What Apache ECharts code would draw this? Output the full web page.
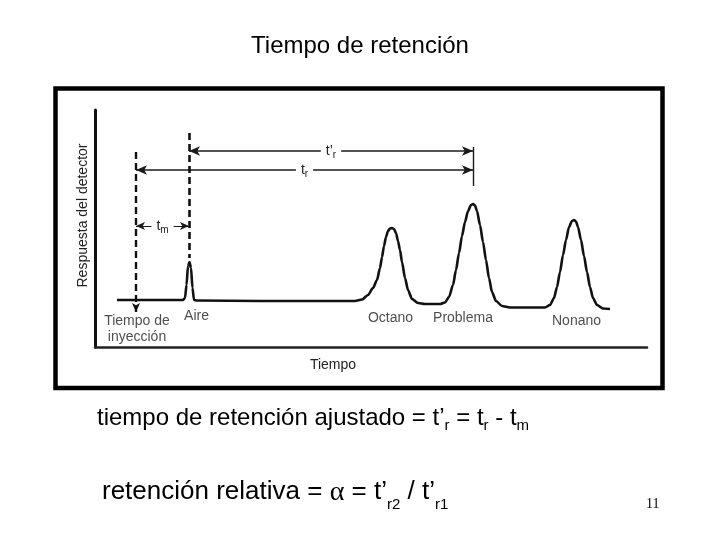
<!DOCTYPE html>
<html>
<head>
<meta charset="utf-8">
<script src="https://cdn.jsdelivr.net/npm/echarts@6/dist/echarts.min.js"></script>
<style>html,body{margin:0;padding:0;background:#fff;}#c{width:720px;height:540px;}</style>
</head>
<body>
<div id="c"></div>
<script>
// ---- data (time and response in arbitrary units) ----
const traceTime = [2.2, 5.5, 8.8, 9.0, 9.15, 9.3, 9.45, 9.6, 9.75, 9.9, 10.2, 16.5, 23.5, 26.0,
  26.7, 27.3, 27.8, 28.2, 28.5, 28.7, 28.9, 29.1, 29.3, 29.5, 29.7, 29.9, 30.1, 30.3, 30.5, 30.7,
  31.0, 31.3, 31.7, 32.3, 33.0, 34.5, 35.0, 35.4, 35.8, 36.1, 36.4, 36.7, 37.0, 37.3, 37.6, 37.8,
  38.0, 38.2, 38.5, 38.8, 39.1, 39.4, 39.7, 40.1, 40.7, 41.5, 45.0, 45.5, 45.9, 46.2, 46.5, 46.8,
  47.1, 47.4, 47.7, 47.9, 48.1, 48.3, 48.6, 48.9, 49.2, 49.5, 49.8, 50.2, 50.8, 51.5];
const traceResponse = [4.7, 4.7, 4.7, 4.9, 6.2, 8.1, 8.5, 7.9, 5.9, 4.7, 4.65, 4.6, 4.6, 4.6,
  4.75, 5.2, 5.9, 6.7, 7.9, 9.0, 10.1, 11.0, 11.6, 11.85, 11.9, 11.8, 11.4, 10.6, 9.7, 8.5,
  6.9, 5.7, 4.8, 4.4, 4.3, 4.3, 4.45, 5.0, 6.2, 7.7, 9.4, 11.1, 12.5, 13.6, 14.2, 14.3,
  14.15, 13.6, 12.2, 10.5, 8.7, 6.9, 5.5, 4.6, 4.1, 3.95, 3.95, 4.2, 4.9, 6.0, 7.5, 9.2,
  10.7, 12.0, 12.6, 12.7, 12.55, 12.0, 10.7, 9.1, 7.5, 6.0, 4.9, 4.2, 3.85, 3.8];
const peakNames = ['Aire', 'Octano', 'Problema', 'Nonano'];
const peakTimes = [9.4, 29.7, 37.8, 47.9];
const injectionTime = 4.1;
const injectionLabel = 'Tiempo de\ninyección';
const baselineLevel = 4.7;
const axisMax = { time: 55.2, response: 23.7 };

// ---- chart ----
const FONT = "'Liberation Sans', Arial, Helvetica, sans-serif";
const SERIF = "'Liberation Serif', 'Times New Roman', serif";
const chart = echarts.init(document.getElementById('c'), null, { renderer: 'canvas' });

const airTime = peakTimes[0];
const sampleTime = peakTimes[2];
const arrowColor = '#1a1a1a';
const tLabel = (sub, prime) => ({
  formatter: '{t|t' + (prime ? '’' : '') + '}{s|' + sub + '}',
  position: 'middle',
  distance: 0,
  verticalAlign: 'middle',
  backgroundColor: '#fff',
  padding: [1, 5],
  rich: {
    t: { fontFamily: FONT, fontSize: 14, color: '#222', lineHeight: 16 },
    s: { fontFamily: FONT, fontSize: 10, color: '#222', lineHeight: 19, verticalAlign: 'bottom' }
  }
});

const labelOffsets = [[7.5, 16], [-1.5, 18], [-10, 18], [2.5, 21.5]];

const option = {
  animation: false,
  backgroundColor: '#fff',
  title: {
    text: 'Tiempo de retención',
    left: 'center',
    top: 29,
    textStyle: { fontFamily: FONT, fontSize: 24, fontWeight: 'normal', color: '#000' }
  },
  graphic: [
    { type: 'rect', z: -10, shape: { x: 55.5, y: 88.5, width: 607, height: 299.5 },
      style: { fill: '#fff', stroke: '#000', lineWidth: 4.5 } },
    { type: 'text', left: 97, top: 406,
      style: {
        text: '{n|tiempo de retención ajustado = t’}{s|r}{n| = t}{s|r}{n| - t}{s|m}',
        rich: {
          n: { fontFamily: FONT, fontSize: 24, color: '#000', lineHeight: 24, verticalAlign: 'top' },
          s: { fontFamily: FONT, fontSize: 15, color: '#000', lineHeight: 27.5, verticalAlign: 'bottom' }
        }
      } },
    { type: 'text', left: 102, top: 479,
      style: {
        text: '{n|retención relativa = }{a|α}{n| = t’}{s|r2}{n| / t’}{s|r1}',
        rich: {
          n: { fontFamily: FONT, fontSize: 26, color: '#000', lineHeight: 26, verticalAlign: 'top' },
          a: { fontFamily: SERIF, fontSize: 28, color: '#000', lineHeight: 26, verticalAlign: 'top' },
          s: { fontFamily: FONT, fontSize: 15, color: '#000', lineHeight: 33, verticalAlign: 'bottom' }
        }
      } },
    { type: 'text', left: 646, top: 497,
      style: { text: '11', fontFamily: SERIF, fontSize: 14, fill: '#000' } }
  ],
  grid: { left: 95, top: 110, width: 552, height: 237, containLabel: false },
  xAxis: {
    type: 'value', min: 0, max: axisMax.time,
    name: 'Tiempo', nameLocation: 'middle', nameGap: 11,
    nameTextStyle: { fontFamily: FONT, fontSize: 14, color: '#222', padding: [0, 76, 0, 0] },
    axisLine: { show: true, onZero: false, lineStyle: { color: '#222', width: 2.5 } },
    axisTick: { show: false }, axisLabel: { show: false }, splitLine: { show: false }
  },
  yAxis: {
    type: 'value', min: 0, max: axisMax.response,
    name: 'Respuesta del detector', nameLocation: 'middle', nameGap: 5,
    nameTextStyle: { fontFamily: FONT, fontSize: 14, color: '#222', padding: [0, 0, 0, 26] },
    axisLine: { show: true, onZero: false, lineStyle: { color: '#111', width: 3 } },
    axisTick: { show: false }, axisLabel: { show: false }, splitLine: { show: false }
  },
  series: [
    {
      type: 'line',
      name: 'Cromatograma',
      data: traceTime.map((t, i) => [t, traceResponse[i]]),
      symbol: 'none',
      smooth: 0.25,
      smoothMonotone: 'x',
      lineStyle: { color: '#111', width: 2.6 },
      z: 3,
      markLine: {
        silent: true,
        animation: false,
        symbolSize: [7, 11],
        lineStyle: { color: arrowColor, width: 1.6, type: 'solid' },
        data: [
          [ { coord: [sampleTime, 19.6], symbol: 'arrow', label: tLabel('r', true) },
            { coord: [airTime, 19.6], symbol: 'arrow' } ],
          [ { coord: [sampleTime, 17.7], symbol: 'arrow', label: tLabel('r', false) },
            { coord: [injectionTime, 17.7], symbol: 'arrow' } ],
          [ { coord: [injectionTime, 12.1], symbol: 'arrow', symbolSize: [6, 9], label: tLabel('m', false),
              lineStyle: { width: 1.2 } },
            { coord: [airTime, 12.1], symbol: 'arrow', symbolSize: [6, 9] } ],
          [ { coord: [sampleTime, 20.0], symbol: 'none', label: { show: false }, lineStyle: { width: 1.4 } },
            { coord: [sampleTime, 16.1], symbol: 'none' } ],
          [ { coord: [injectionTime, 19.5], symbol: 'none', label: { show: false },
              lineStyle: { width: 2.4, type: [7, 4], color: '#111' } },
            { coord: [injectionTime, 3.5], symbol: 'arrow', symbolSize: [6, 9] } ],
          [ { coord: [airTime, 21.4], symbol: 'none', label: { show: false },
              lineStyle: { width: 2.6, type: [7, 4], color: '#111' } },
            { coord: [airTime, 8.9], symbol: 'none' } ]
        ]
      }
    },
    {
      type: 'scatter',
      name: 'Picos',
      symbolSize: 0,
      silent: true,
      z: 4,
      data: peakNames.map((n, i) => ({
        name: n,
        value: [peakTimes[i], baselineLevel],
        label: { offset: labelOffsets[i] }
      })).concat([{
        name: injectionLabel,
        value: [injectionTime, baselineLevel],
        label: { offset: [1, 29], lineHeight: 16 }
      }]),
      label: {
        show: true, position: 'inside', formatter: p => p.name,
        fontFamily: FONT, fontSize: 14, color: '#222'
      }
    }
  ]
};
chart.setOption(option);
</script>
</body>
</html>
